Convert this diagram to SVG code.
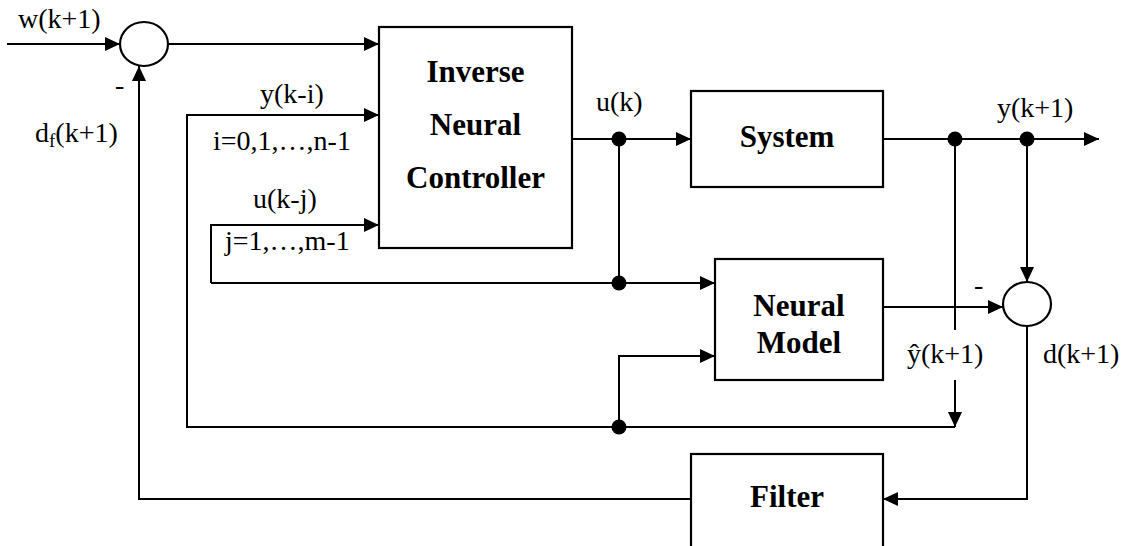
<svg xmlns="http://www.w3.org/2000/svg" width="1130" height="546" viewBox="0 0 1130 546">
<style>
.box{fill:#fff;stroke:#000;stroke-width:2.2}
.ln{fill:none;stroke:#000;stroke-width:2}
.sum{fill:#fff;stroke:#000;stroke-width:2.2}
.dot{fill:#000}
.t{font-family:'Liberation Serif','Times New Roman','DejaVu Serif',serif;font-size:28px;fill:#000}
.b{font-family:'Liberation Serif','Times New Roman','DejaVu Serif',serif;font-size:31px;font-weight:bold;fill:#000;text-anchor:middle}
</style>
<defs>
<marker id="arr" markerWidth="15" markerHeight="14" refX="15" refY="7" orient="auto" markerUnits="userSpaceOnUse">
<path d="M0,0 L15,7 L0,14 Z" fill="#000"/>
</marker>
</defs>
<rect width="1130" height="546" fill="#fff"/>
<g id="connectors">
<path class="ln" d="M7,44 H120" marker-end="url(#arr)"/>
<path class="ln" d="M168,44 H379" marker-end="url(#arr)"/>
<path class="ln" d="M955,427 H187 V115 H379" marker-end="url(#arr)"/>
<path class="ln" d="M211,283 V225 H379" marker-end="url(#arr)"/>
<path class="ln" d="M211,283 H715" marker-end="url(#arr)"/>
<path class="ln" d="M572,139 H691" marker-end="url(#arr)"/>
<path class="ln" d="M619,139 V283"/>
<path class="ln" d="M883,139 H1099" marker-end="url(#arr)"/>
<path class="ln" d="M1027,139 V282" marker-end="url(#arr)"/>
<path class="ln" d="M883,307 H1003" marker-end="url(#arr)"/>
<path class="ln" d="M955,139 V330"/>
<path class="ln" d="M955,380 V427" marker-end="url(#arr)"/>
<path class="ln" d="M619,427 V356 H715" marker-end="url(#arr)"/>
<path class="ln" d="M1027,326 V499 H883" marker-end="url(#arr)"/>
<path class="ln" d="M691,499 H139 V66" marker-end="url(#arr)"/>
<circle class="dot" cx="619" cy="139" r="7.5"/>
<circle class="dot" cx="619" cy="283" r="7.5"/>
<circle class="dot" cx="955" cy="139" r="7.5"/>
<circle class="dot" cx="1027" cy="139" r="7.5"/>
<circle class="dot" cx="619" cy="427" r="7.5"/>
</g>
<g id="sum1">
<ellipse class="sum" cx="144" cy="44" rx="24" ry="22"/>
</g>
<g id="controller">
<rect class="box" x="379" y="27" width="193" height="221"/>
<text class="b" x="475.5" y="82">Inverse</text>
<text class="b" x="475.5" y="135">Neural</text>
<text class="b" x="475.5" y="188">Controller</text>
</g>
<g id="system">
<rect class="box" x="691" y="91" width="192" height="96"/>
<text class="b" x="787" y="147">System</text>
</g>
<g id="model">
<rect class="box" x="715" y="259" width="168" height="121"/>
<text class="b" x="799" y="316">Neural</text>
<text class="b" x="799" y="353">Model</text>
</g>
<g id="sum2">
<ellipse class="sum" cx="1027" cy="304" rx="24" ry="22"/>
</g>
<g id="filter">
<rect class="box" x="691" y="454" width="192" height="100"/>
<text class="b" x="787" y="507">Filter</text>
</g>
<g id="labels">
<text class="t" x="18" y="28">w(k+1)</text>
<text class="t" x="115" y="94">-</text>
<text class="t" x="35" y="142">d<tspan font-size="19" dy="5">f</tspan><tspan dy="-5">(k+1)</tspan></text>
<text class="t" x="260" y="103">y(k-i)</text>
<text class="t" x="213" y="150">i=0,1,…,n-1</text>
<text class="t" x="253" y="208">u(k-j)</text>
<text class="t" x="225" y="250">j=1,…,m-1</text>
<text class="t" x="596" y="111">u(k)</text>
<text class="t" x="997" y="117">y(k+1)</text>
<text class="t" x="974" y="294">-</text>
<text class="t" x="907" y="363">ŷ(k+1)</text>
<text class="t" x="1043" y="363">d(k+1)</text>
</g>
</svg>
